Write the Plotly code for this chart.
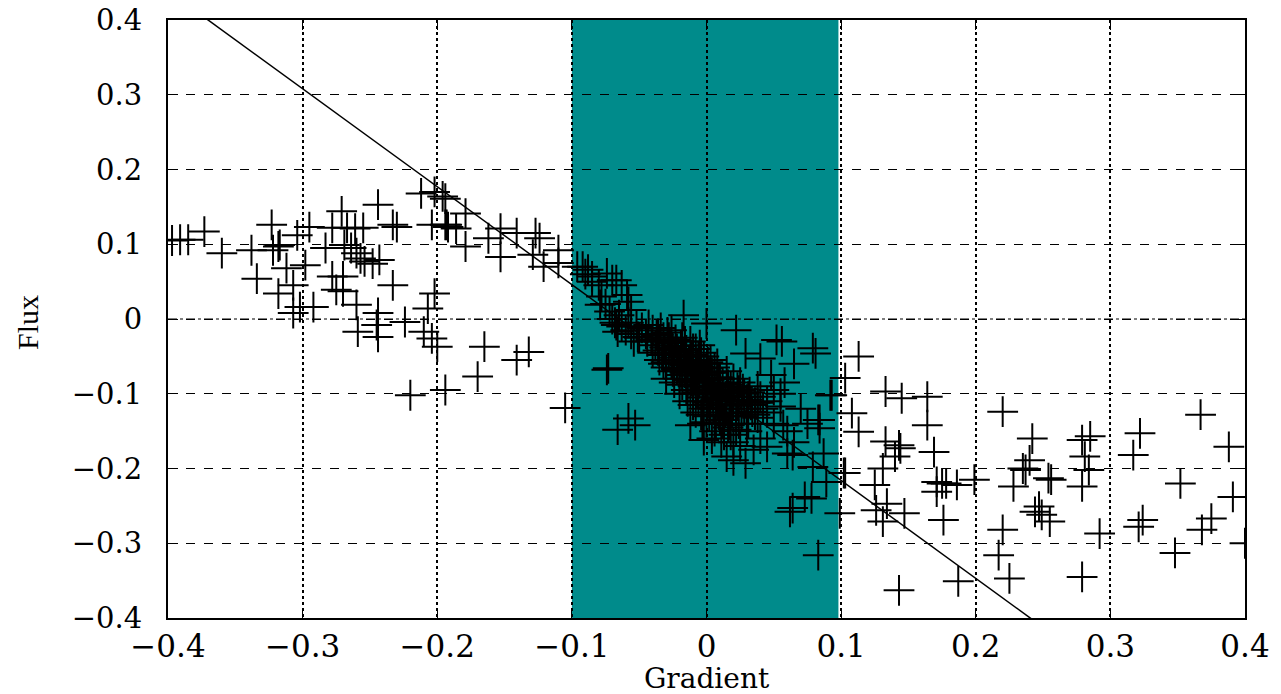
import plotly.graph_objects as go

# ---- data ----
gradient_outer = [
    -0.397, -0.391, -0.385, -0.373, -0.360, -0.338, -0.322, -0.318, -0.323, -0.334, -0.317, -0.312,
    -0.304, -0.298, -0.307, -0.318, -0.302, -0.307, -0.292, -0.295, -0.278, -0.267, -0.261, -0.255,
    -0.271, -0.244, -0.283, -0.269, -0.264, -0.260, -0.257, -0.254, -0.248, -0.243, -0.278, -0.270,
    -0.275, -0.270, -0.260, -0.244, -0.245, -0.244, -0.259, -0.233, -0.224, -0.210, -0.204, -0.200,
    -0.202, -0.207, -0.220, -0.194, -0.212, -0.202, -0.196, -0.233, -0.230, -0.204, -0.194, -0.192,
    -0.194, -0.179, -0.193, -0.186, -0.179, -0.162, -0.153, -0.153, -0.141, -0.127, -0.124, -0.129,
    -0.121, -0.110, -0.110, -0.165, -0.141, -0.132, -0.170, -0.105,
]
flux_outer = [
    0.105, 0.106, 0.106, 0.117, 0.088, 0.092, 0.092, 0.097, 0.126, 0.054, 0.099, 0.068,
    0.112, 0.072, 0.045, 0.034, 0.016, 0.008, 0.016, 0.123, 0.122, 0.122, 0.121, 0.122,
    0.144, 0.153, 0.095, 0.099, 0.095, 0.088, 0.081, 0.077, 0.074, 0.079, 0.057, 0.057,
    0.039, 0.037, 0.019, 0.008, -0.008, -0.024, -0.017, 0.045, -0.004, -0.017, -0.026, -0.037,
    0.034, 0.014, -0.102, -0.095, 0.168, 0.170, 0.164, 0.126, 0.123, 0.126, 0.126, 0.123,
    0.161, 0.141, 0.126, 0.121, 0.097, 0.108, 0.121, 0.083, 0.115, 0.115, 0.108, 0.086,
    0.070, 0.092, 0.075, -0.037, -0.055, -0.044, -0.077, -0.119,
]

gradient_band = [
    -0.096, -0.092, -0.088, -0.085, -0.079, -0.074, -0.070, -0.067, -0.063, -0.059, -0.058, -0.056,
    -0.067, -0.074, -0.090, -0.085, -0.080, -0.078, -0.075, -0.072, -0.070, -0.068, -0.065, -0.063,
    -0.060, -0.058, -0.056, -0.054, -0.052, -0.050, -0.066, -0.051, -0.073, -0.017, 0.000,
]
flux_band = [
    0.070, 0.070, 0.066, 0.057, 0.019, 0.061, 0.052, 0.052, 0.045, 0.032, 0.023, 0.012,
    -0.008, -0.068, 0.060, 0.050, 0.045, 0.030, 0.020, 0.010, 0.000, -0.005, 0.005, -0.010,
    -0.015, -0.005, -0.020, -0.030, -0.010, -0.025, -0.017, -0.024, -0.066, 0.005, -0.006,
]

gradient_core = [
    -0.048, -0.045, -0.043, -0.041, -0.040, -0.038, -0.037, -0.036, -0.035, -0.034, -0.033, -0.032,
    -0.031, -0.030, -0.029, -0.028, -0.027, -0.026, -0.025, -0.024, -0.023, -0.022, -0.021, -0.020,
    -0.019, -0.018, -0.017, -0.016, -0.015, -0.014, -0.013, -0.012, -0.011, -0.010, -0.010, -0.009,
    -0.008, -0.007, -0.006, -0.005, -0.004, -0.003, -0.002, -0.001, 0.000, 0.001, 0.002, 0.003,
    0.004, 0.005, 0.006, 0.007, 0.008, 0.009, 0.010, 0.011, 0.012, 0.013, 0.014, 0.015,
    0.016, 0.017, 0.018, 0.019, 0.020, 0.022, 0.023, 0.024, 0.026, 0.027, 0.028, 0.030,
    0.031, 0.032, 0.034, 0.036, 0.038, 0.040, 0.042, 0.045, -0.020, -0.015, -0.008, -0.002,
    0.003, 0.008, -0.025, -0.030, 0.012, 0.006, -0.004, -0.010, 0.000, 0.015, 0.020, 0.025,
    -0.005, -0.018, 0.004, 0.018,
    -0.040, -0.035, -0.030, -0.028, -0.026, -0.022, -0.020, -0.018, -0.016, -0.014, -0.012, -0.010,
    -0.008, -0.006, -0.004, -0.002, 0.000, 0.000, 0.002, 0.004, 0.006, 0.008, 0.010, 0.010,
    0.012, 0.014, 0.016, 0.018, 0.020, 0.022, 0.024, 0.026, 0.028, 0.030, 0.033, 0.036,
    -0.024, -0.032, -0.036, -0.044, -0.012, -0.006, 0.001, 0.007, -0.003, -0.008, 0.013, 0.020,
    0.011, -0.014, -0.020, 0.005, -0.001, -0.016, 0.017, 0.023, 0.009, -0.007, -0.011, 0.003,
    -0.030, -0.022, -0.015, -0.009, -0.003, 0.004, 0.011, 0.018, -0.026, -0.019, -0.012, -0.005,
    0.002, 0.009, 0.016, 0.024, 0.031, 0.038,
]
flux_core = [
    -0.012, -0.020, -0.008, -0.028, -0.015, -0.035, -0.022, -0.042, -0.030, -0.012, -0.048, -0.025,
    -0.038, -0.055, -0.018, -0.045, -0.032, -0.060, -0.040, -0.052, -0.028, -0.068, -0.045, -0.058,
    -0.036, -0.075, -0.050, -0.062, -0.042, -0.082, -0.055, -0.070, -0.048, -0.090, -0.062, -0.076,
    -0.056, -0.098, -0.068, -0.084, -0.060, -0.105, -0.075, -0.092, -0.066, -0.112, -0.082, -0.100,
    -0.072, -0.120, -0.090, -0.108, -0.078, -0.128, -0.096, -0.114, -0.086, -0.135, -0.104, -0.120,
    -0.092, -0.142, -0.110, -0.126, -0.098, -0.148, -0.116, -0.104, -0.130, -0.094, -0.120, -0.108,
    -0.140, -0.098, -0.124, -0.112, -0.132, -0.104, -0.120, -0.110, -0.080, -0.095, -0.040, -0.050,
    -0.055, -0.060, -0.070, -0.080, -0.140, -0.150, -0.128, -0.115, -0.138, -0.070, -0.080, -0.085,
    -0.035, -0.025, -0.160, -0.155,
    -0.045, -0.055, -0.065, -0.025, -0.015, -0.040, -0.070, -0.088, -0.030, -0.060, -0.100, -0.040,
    -0.085, -0.110, -0.045, -0.120, -0.085, -0.100, -0.130, -0.095, -0.065, -0.115, -0.135, -0.080,
    -0.100, -0.125, -0.145, -0.090, -0.115, -0.130, -0.140, -0.110, -0.100, -0.125, -0.115, -0.128,
    -0.085, -0.060, -0.020, -0.030, -0.030, -0.050, -0.058, -0.140, -0.140, -0.125, -0.155, -0.165,
    -0.165, -0.110, -0.100, -0.105, -0.075, -0.072, -0.103, -0.092, -0.088, -0.063, -0.083, -0.118,
    -0.058, -0.066, -0.074, -0.082, -0.090, -0.098, -0.106, -0.114, -0.040, -0.048, -0.056, -0.064,
    -0.072, -0.080, -0.088, -0.096, -0.104, -0.112,
]

gradient_right = [
    0.022, 0.052, 0.056, 0.079, 0.081, 0.040, 0.029, 0.050, 0.055, 0.083, 0.092, -0.066,
    -0.058, -0.053, -0.012, -0.002, 0.015, 0.020, 0.029, 0.045, 0.060, 0.064, 0.087, 0.079,
    0.089, 0.102, 0.073, 0.113, 0.103, 0.093, 0.133, 0.145, 0.164, 0.108, 0.113, 0.164,
    0.084, 0.084, 0.057, 0.133, 0.143, 0.144, 0.140, 0.169, 0.131, 0.103, 0.125, 0.171,
    0.175, 0.178, 0.186, 0.171, 0.199, 0.134, 0.126, 0.147, 0.131, 0.176, 0.099, 0.078,
    0.064, 0.062, 0.083, 0.143, 0.187, 0.220, 0.228, 0.220, 0.217, 0.225, 0.237, 0.242,
    0.240, 0.235, 0.254, 0.256, 0.279, 0.285, 0.281, 0.284, 0.279, 0.247, 0.244, 0.249,
    0.255, 0.279, 0.292, 0.322, 0.317, 0.367, 0.388, 0.352, 0.391, 0.324, 0.321, 0.375,
    0.368, 0.348, 0.400, 0.030, 0.040, 0.050, 0.035, 0.045, 0.055, 0.060, 0.065, 0.025,
    0.038, 0.048, 0.058, 0.065, 0.070, 0.075,
]
flux_right = [
    -0.015, -0.028, -0.030, -0.039, -0.046, -0.053, -0.046, -0.095, -0.117, -0.135, -0.102, -0.148,
    -0.133, -0.142, -0.142, -0.162, -0.184, -0.189, -0.193, -0.171, -0.180, -0.182, -0.180, -0.198,
    -0.218, -0.206, -0.238, -0.050, -0.079, -0.102, -0.097, -0.106, -0.104, -0.126, -0.151, -0.142,
    -0.135, -0.146, -0.142, -0.164, -0.169, -0.173, -0.184, -0.178, -0.200, -0.206, -0.222, -0.218,
    -0.220, -0.220, -0.222, -0.231, -0.215, -0.247, -0.256, -0.260, -0.271, -0.269, -0.260, -0.240,
    -0.253, -0.258, -0.316, -0.363, -0.351, -0.124, -0.224, -0.282, -0.316, -0.347, -0.202, -0.160,
    -0.189, -0.200, -0.213, -0.215, -0.162, -0.157, -0.184, -0.202, -0.224, -0.251, -0.258, -0.262,
    -0.271, -0.345, -0.287, -0.153, -0.182, -0.128, -0.171, -0.220, -0.238, -0.269, -0.278, -0.267,
    -0.282, -0.313, -0.300, -0.150, -0.160, -0.140, -0.175, -0.125, -0.100, -0.150, -0.165, -0.170,
    -0.090, -0.075, -0.085, -0.060, -0.120, -0.140,
]

fit_slope = -1.31
fit_intercept = -0.085
band_lo, band_hi = -0.1, 0.098
tick_values = [-0.4, -0.3, -0.2, -0.1, 0, 0.1, 0.2, 0.3, 0.4]
tick_labels = ["\u22120.4", "\u22120.3", "\u22120.2", "\u22120.1", "0", "0.1", "0.2", "0.3", "0.4"]

# ---- figure ----
gx = gradient_outer + gradient_band + gradient_core + gradient_right
fy = flux_outer + flux_band + flux_core + flux_right

fig = go.Figure()
fig.add_trace(go.Scatter(
    x=gx, y=fy, mode="markers",
    marker=dict(symbol="cross-thin", size=22, line=dict(color="black", width=2)),
    showlegend=False, cliponaxis=True,
))
line_x = [-0.42, 0.42]
line_y = [fit_intercept + fit_slope * v for v in line_x]
fig.add_trace(go.Scatter(x=line_x, y=line_y, mode="lines",
                         line=dict(color="black", width=1.5), showlegend=False))

fig.add_shape(type="rect", xref="x", yref="paper", x0=band_lo, x1=band_hi, y0=0, y1=1,
              fillcolor="#008B8B", line=dict(width=0), layer="below")
fig.add_shape(type="line", xref="paper", yref="y", x0=0, x1=1, y0=0, y1=0,
              line=dict(color="black", width=1.2, dash="dashdot"), layer="below")

serif = "Liberation Serif"
wide_serif = "DejaVu Serif"
fig.update_layout(
    width=1281, height=694,
    margin=dict(l=160, r=44, t=12, b=84),
    paper_bgcolor="white", plot_bgcolor="white",
    font=dict(family=wide_serif, size=30, color="black"),
    xaxis=dict(range=[-0.4, 0.4], tickvals=tick_values, ticktext=tick_labels,
               tickfont=dict(family=wide_serif, size=31), automargin=False,
               showgrid=True, gridcolor="black", gridwidth=1.5, griddash="dot",
               zeroline=False, showline=True, linecolor="black", linewidth=2, mirror="ticks",
               ticks="inside", ticklen=10, tickcolor="black", ticklabelstandoff=0,
               ticklabeloverflow="allow"),
    yaxis=dict(range=[-0.4, 0.4], tickvals=tick_values, ticktext=tick_labels,
               tickfont=dict(family=wide_serif, size=29), automargin=False,
               showgrid=True, gridcolor="black", gridwidth=1, griddash="dash",
               zeroline=False, showline=True, linecolor="black", linewidth=2, mirror="ticks",
               ticks="inside", ticklen=10, tickcolor="black", ticklabelstandoff=18,
               ticklabeloverflow="allow"),
    annotations=[
        dict(text="Gradient", xref="paper", yref="paper", x=0.5, y=-0.101,
             xanchor="center", yanchor="middle", showarrow=False,
             font=dict(family=wide_serif, size=28)),
        dict(text="Flux", xref="paper", yref="paper", x=-0.130, y=0.495,
             xanchor="center", yanchor="middle", showarrow=False, textangle=-90,
             font=dict(family=serif, size=30)),
    ],
)

fig.write_html("out.html")
